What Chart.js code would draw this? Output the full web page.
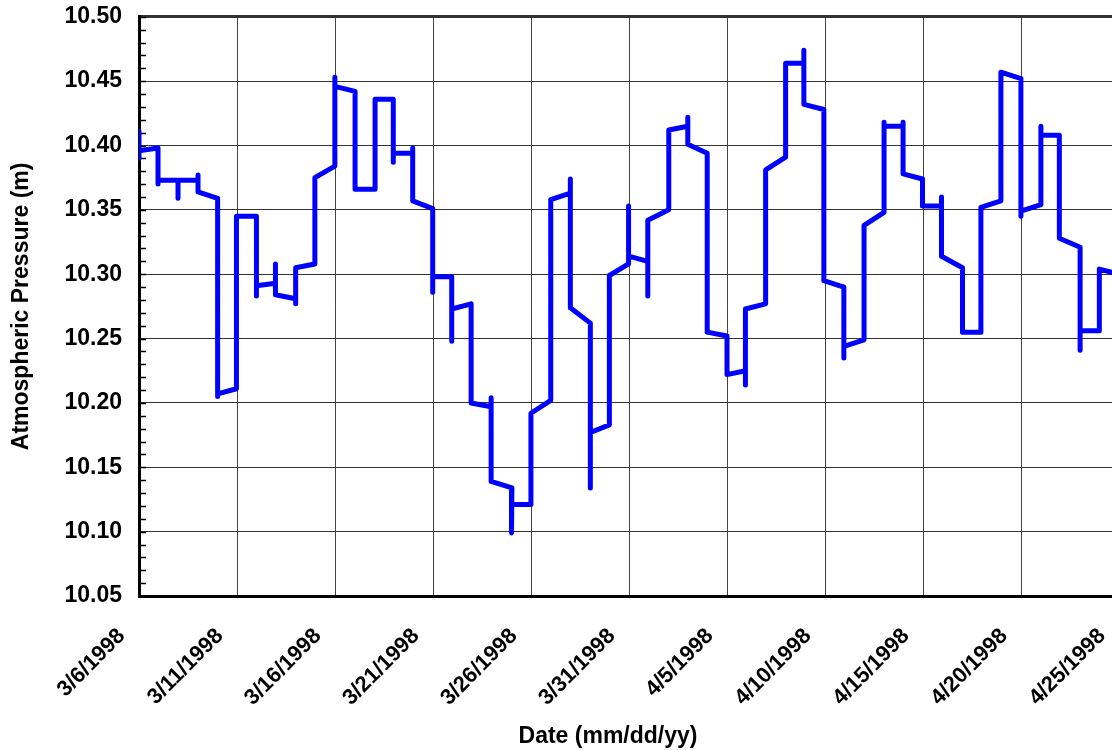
<!DOCTYPE html>
<html>
<head>
<meta charset="utf-8">
<script src="https://cdn.jsdelivr.net/npm/chart.js@4"></script>
<style>
  body { margin: 0; overflow: hidden; background: #fff; }
</style>
</head>
<body>
<canvas id="chart" width="1148" height="750"></canvas>
<script>
// tick labels every 5 days, starting 3/6/1998 (day 0)
const dateLabels = [
  "3/6/1998", "3/11/1998", "3/16/1998", "3/21/1998", "3/26/1998", "3/31/1998",
  "4/5/1998", "4/10/1998", "4/15/1998", "4/20/1998", "4/25/1998"
];

// days since 3/6/1998
const days = [
  0, 0, 0, 0.97, 0.97, 0.97, 1.99, 1.99, 1.99, 3.01, 3.01, 3.01,
  4.01, 4.01, 4.01, 4.97, 4.97, 5.99, 5.99, 5.99, 6.96, 6.96, 6.96,
  7.99, 7.99, 7.99, 8.97, 8.97, 9.99, 9.99, 9.99, 11.02, 11.02, 12.04, 12.04,
  12.97, 12.97, 12.97, 13.96, 13.96, 13.96, 14.98, 14.98, 14.98, 15.95,
  15.95, 15.95, 16.94, 16.94, 17.96, 17.96, 17.96, 19.02, 19.0, 19.0,
  19.99, 19.99, 21.0, 21.0, 22.0, 22.0, 22.0, 23.02, 23.02, 23.02,
  23.99, 23.99, 24.97, 24.97, 24.97, 25.95, 25.95, 25.95, 27.02, 27.02,
  27.99, 27.99, 27.99, 28.98, 28.98, 29.99, 29.99, 30.93, 30.93, 30.93,
  31.96, 31.96, 32.98, 32.98, 33.91, 33.91, 33.91, 34.93, 34.93, 35.95,
  35.95, 35.95, 36.98, 36.98, 38.0, 38.0, 38.0, 38.97, 38.97, 38.97,
  39.96, 39.96, 40.93, 40.93, 40.93, 42.0, 42.0, 42.94, 42.94, 43.96,
  43.96, 44.98, 44.98, 44.98, 46.0, 46.0, 46.0, 46.94, 46.94, 48.0,
  48.0, 48.0, 48.98, 48.98, 50.0
];

// atmospheric pressure (m)
const pressure = [
  10.411, 10.390, 10.396, 10.398, 10.370, 10.373, 10.373, 10.359, 10.373, 10.373, 10.377, 10.364,
  10.359, 10.205, 10.207, 10.211, 10.345, 10.345, 10.283, 10.291, 10.293, 10.308, 10.284,
  10.281, 10.277, 10.305, 10.308, 10.375, 10.384, 10.453, 10.446, 10.442, 10.366, 10.366, 10.436,
  10.436, 10.387, 10.394, 10.394, 10.398, 10.357, 10.351, 10.286, 10.298, 10.298,
  10.248, 10.273, 10.277, 10.200, 10.197, 10.204, 10.139, 10.134, 10.099, 10.121,
  10.121, 10.192, 10.202, 10.358, 10.363, 10.374, 10.274, 10.262, 10.134, 10.177,
  10.183, 10.299, 10.308, 10.353, 10.314, 10.310, 10.283, 10.342, 10.350, 10.412,
  10.415, 10.422, 10.401, 10.394, 10.255, 10.252, 10.222, 10.225, 10.214, 10.273,
  10.277, 10.381, 10.391, 10.464, 10.464, 10.474, 10.432, 10.428, 10.295, 10.290,
  10.235, 10.244, 10.249, 10.338, 10.348, 10.418, 10.415, 10.415, 10.418, 10.378,
  10.374, 10.353, 10.353, 10.360, 10.314, 10.305, 10.255, 10.255, 10.352, 10.357,
  10.457, 10.452, 10.345, 10.349, 10.354, 10.415, 10.408, 10.408, 10.328, 10.321,
  10.241, 10.256, 10.256, 10.304, 10.300
];

const FONT = '"Liberation Sans", Arial, sans-serif';
const isMajor = v => Math.round(v * 100) % 5 === 0;

// inward minor ticks on the y axis + x axis title
const extras = {
  id: "extras",
  beforeDatasetsDraw(chart) {
    const c = chart.ctx, y = chart.scales.y, left = chart.chartArea.left;
    c.save();
    c.strokeStyle = "#000";
    c.lineWidth = 1.5;
    y.ticks.forEach(t => {
      const py = Math.round(y.getPixelForValue(t.value)) + 0.5;
      c.beginPath();
      c.moveTo(left, py);
      c.lineTo(left + 7, py);
      c.stroke();
    });
    c.restore();
  },
  afterDraw(chart) {
    const c = chart.ctx;
    c.save();
    c.font = "bold 23px " + FONT;
    c.fillStyle = "#000";
    c.textAlign = "center";
    c.textBaseline = "middle";
    c.fillText("Date (mm/dd/yy)", 608, 737);
    c.restore();
  }
};

const ctx = document.getElementById("chart").getContext("2d");
const myChart = new Chart(ctx, {
  type: "line",
  data: {
    datasets: [
      {
        label: "Atmospheric Pressure",
        data: days.map((d, i) => ({ x: d, y: pressure[i] })),
        borderColor: "#0000ff",
        borderWidth: 5,
        borderCapStyle: "round",
        borderJoinStyle: "round",
        pointRadius: 0,
        tension: 0,
        fill: false,
      },
    ],
  },
  options: {
    responsive: false,
    animation: false,
    layout: { padding: { top: 0, right: 4, left: 0, bottom: 0 } },
    plugins: { legend: { display: false }, tooltip: { enabled: false } },
    scales: {
      x: {
        type: "linear",
        min: 0,
        max: 50,
        afterFit: s => { s.height = 154; },
        border: { color: "#000", width: 3 },
        grid: { color: "#444", lineWidth: 1, drawTicks: false },
        ticks: {
          stepSize: 5,
          autoSkip: false,
          minRotation: 45,
          maxRotation: 45,
          padding: 10,
          color: "#000",
          font: { family: FONT, size: 22, weight: "bold" },
          // trailing spaces push the rotated label down along its diagonal
          callback: v => dateLabels[Math.round(v / 5)] + "    ",
        },
      },
      y: {
        min: 10.05,
        max: 10.5,
        afterFit: s => { s.width = 139; },
        border: { color: "#000", width: 3 },
        grid: {
          drawTicks: true,
          tickLength: 14,
          tickColor: "rgba(0,0,0,0)",
          color: c => (c.tick && isMajor(c.tick.value) ? "#333" : "rgba(0,0,0,0)"),
          lineWidth: c => (c.tick && Math.abs(c.tick.value - 10.5) < 1e-6 ? 3 : 1),
        },
        ticks: {
          stepSize: 0.01,
          autoSkip: false,
          padding: 3,
          color: "#000",
          font: { family: FONT, size: 23, weight: "bold" },
          callback: v => (isMajor(v) ? v.toFixed(2) : ""),
        },
        title: {
          display: true,
          text: "Atmospheric Pressure (m)",
          color: "#000",
          padding: { top: 8, bottom: 0 },
          font: { family: FONT, size: 23, weight: "bold" },
        },
      },
    },
  },
  plugins: [extras],
});
</script>
</body>
</html>
